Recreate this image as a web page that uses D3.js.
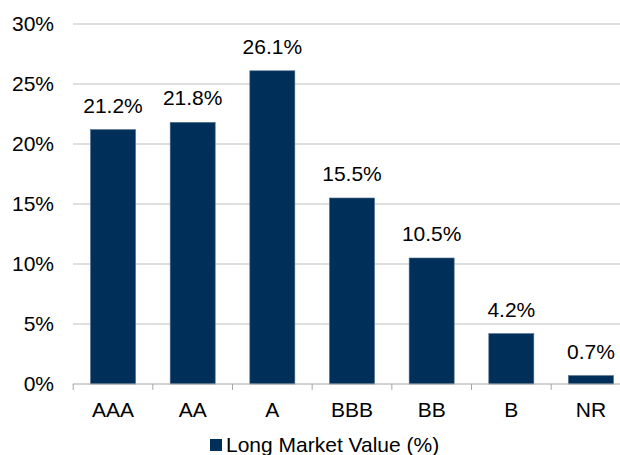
<!DOCTYPE html>
<html>
<head>
<meta charset="utf-8">
<script src="https://cdn.jsdelivr.net/npm/d3@7"></script>
<style>
  body { margin: 0; background: #fff; }
  text { font-family: "Liberation Sans", Arial, sans-serif; fill: #000; }
</style>
</head>
<body>
<div id="chart"></div>
<script>
const ratings = ["AAA", "AA", "A", "BBB", "BB", "B", "NR"]
const marketValue = [21.2, 21.8, 26.1, 15.5, 10.5, 4.2, 0.7]
const yTicks = [0, 5, 10, 15, 20, 25, 30]
const seriesName = "Long Market Value (%)"

const width = 620, height = 455
const margin = {top: 24, right: -11, bottom: 71, left: 73}
const fontSize = "21px"

const svg = d3.select("#chart")
    .append("svg")
    .attr("width", width)
    .attr("height", height)

const x = d3.scaleBand()
    .domain(ratings)
    .range([margin.left, width - margin.right])
    .paddingInner(0.435)
    .paddingOuter(0.22)

const y = d3.scaleLinear()
    .domain([0, 30])
    .range([height - margin.bottom, margin.top])

// gridlines
svg.append("g")
    .selectAll("line")
    .data(yTicks.slice(1))
    .join("line")
    .attr("x1", margin.left)
    .attr("x2", width)
    .attr("y1", d => y(d))
    .attr("y2", d => y(d))
    .attr("stroke", "#bfbfbf")
    .attr("stroke-width", 1)

// y axis labels
const yAxis = svg.append("g")
    .attr("transform", `translate(${margin.left},0)`)
    .call(d3.axisLeft(y).tickValues(yTicks).tickFormat(d => d + "%").tickSize(0).tickPadding(19))
yAxis.select(".domain").remove()
yAxis.selectAll("text").attr("font-size", fontSize).attr("fill", "#000")
    .style("font-family", "Liberation Sans, Arial, sans-serif")

// bars
svg.append("g")
    .selectAll("rect")
    .data(marketValue)
    .join("rect")
    .attr("x", (d, i) => x(ratings[i]))
    .attr("y", d => y(d))
    .attr("width", x.bandwidth())
    .attr("height", d => y(0) - y(d))
    .attr("fill", "#00305a")
    .attr("stroke", "#4a6a8a")
    .attr("stroke-width", 0.6)

// value labels
svg.append("g")
    .selectAll("text")
    .data(marketValue)
    .join("text")
    .attr("x", (d, i) => x(ratings[i]) + x.bandwidth() / 2)
    .attr("y", d => y(d) - 17)
    .attr("text-anchor", "middle")
    .attr("font-size", fontSize)
    .text(d => d.toFixed(1) + "%")

// x axis
const xAxis = svg.append("g")
    .attr("transform", `translate(0,${y(0)})`)
    .call(d3.axisBottom(x).tickSize(0).tickPadding(18))
xAxis.select(".domain").attr("stroke", "#a6a6a6").attr("d", `M${margin.left},0H${width}`)
xAxis.selectAll("text").attr("font-size", fontSize).attr("fill", "#000")
    .style("font-family", "Liberation Sans, Arial, sans-serif")

// category tick marks at band boundaries
svg.append("g")
    .selectAll("line")
    .data(ratings)
    .join("line")
    .attr("x1", d => x(d) - x.step() * x.paddingInner() / 2)
    .attr("x2", d => x(d) - x.step() * x.paddingInner() / 2)
    .attr("y1", y(0))
    .attr("y2", y(0) + 6)
    .attr("stroke", "#a6a6a6")

// legend
const legend = svg.append("g").attr("transform", "translate(210,439)")
legend.append("rect")
    .attr("width", 12).attr("height", 12)
    .attr("fill", "#00305a")
legend.append("text")
    .attr("x", 16)
    .attr("y", 13)
    .attr("font-size", fontSize)
    .text(seriesName)
</script>
</body>
</html>
